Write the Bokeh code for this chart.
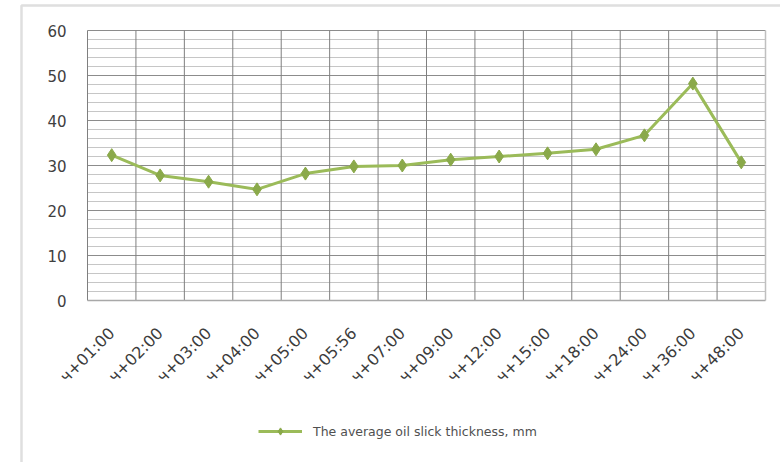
from bokeh.plotting import figure
from bokeh.models import Range1d, Legend, LegendItem, BoxAnnotation, ColumnDataSource
from bokeh.core.properties import value
from bokeh.embed import file_html
from bokeh.resources import INLINE
import math

# Sampling times after the spill and the measured mean slick thickness
categories = ["ч+01:00", "ч+02:00", "ч+03:00", "ч+04:00", "ч+05:00", "ч+05:56",
              "ч+07:00", "ч+09:00", "ч+12:00", "ч+15:00", "ч+18:00", "ч+24:00",
              "ч+36:00", "ч+48:00"]
thickness = [32.3, 27.8, 26.4, 24.7, 28.2, 29.8, 30.0, 31.3, 32.0, 32.7,
             33.6, 36.7, 48.2, 30.7]
y_ticks = [0, 10, 20, 30, 40, 50, 60]
y_minor_step = 2
series_name = "The average oil slick thickness, mm"

W, H = 780, 462
# plot-area placement on the canvas (pixels)
PL, PR, PT, PB = 87, 765, 30, 300

n = len(categories)
y_max = y_ticks[-1]
px_x = (PR - PL) / n
px_y = (PB - PT) / y_max

centers = [i + 0.5 for i in range(n)]
src = ColumnDataSource(dict(x=centers, y=thickness, cat=categories))

# the data frame spans the whole canvas; the plot area is drawn inside it
p = figure(width=W, height=H, output_backend="svg", toolbar_location=None,
           x_axis_type=None, y_axis_type=None, min_border=0,
           x_range=Range1d(-PL / px_x, n + (W - PR) / px_x),
           y_range=Range1d(-(H - PB) / px_y, y_max + PT / px_y))
p.outline_line_color = None
p.background_fill_color = "white"
p.border_fill_color = "white"

# horizontal grid: minor every 2, major every 10
minor = [v for v in range(0, y_max + 1, y_minor_step) if v not in y_ticks]
p.segment(x0=0, x1=n, y0=minor, y1=minor, line_color="#c6c6c6", line_width=1)
p.segment(x0=0, x1=n, y0=y_ticks[1:], y1=y_ticks[1:], line_color="#8c8c8c",
          line_width=1)
# vertical grid at category boundaries
bounds = list(range(n))
p.segment(x0=bounds, x1=bounds, y0=0, y1=y_max, line_color="#7f7f7f", line_width=1)
p.segment(x0=n, x1=n, y0=0, y1=y_max, line_color="#c0c0c0", line_width=1.5)
# category axis line
p.segment(x0=0, x1=n, y0=0, y1=0, line_color="#a8a8a8", line_width=1.5)

# y tick labels
p.text(x=0, y=y_ticks, text=[str(t) for t in y_ticks], x_offset=-21,
       text_align="right", text_baseline="middle", text_font=value("DejaVu Sans"),
       text_font_size="15px", text_color="#404040")

# rotated category labels
p.text(x=centers, y=0, text=categories, angle=math.pi / 4, x_offset=0, y_offset=30,
       text_align="right", text_baseline="middle", text_font=value("DejaVu Sans"),
       text_font_size="16px", text_color="#3c3c3c")

line_color = "#9bbb59"
ln = p.line("x", "y", source=src, line_color=line_color, line_width=3)
mk = p.scatter("x", "y", source=src, marker="diamond", size=13,
               fill_color="#8aa94a", line_color="#8aa94a")

legend = Legend(items=[LegendItem(label=series_name, renderers=[ln, mk])],
                location=(258, 22), margin=0, padding=0, label_standoff=11,
                glyph_width=44, glyph_height=18,
                label_text_font="DejaVu Sans", label_text_font_size="12.5px",
                label_text_color="#505050", border_line_color=None,
                background_fill_alpha=0)
p.add_layout(legend, "center")

# grey chart frame along the left and top edges (screen y counts from the bottom)
p.add_layout(BoxAnnotation(left=21, right=W + 20, top=H - 5, bottom=-20,
                           left_units="screen", right_units="screen",
                           top_units="screen", bottom_units="screen",
                           fill_alpha=0, line_color="#959595", line_width=2.5))

open("out.html", "w").write(file_html(p, INLINE))
